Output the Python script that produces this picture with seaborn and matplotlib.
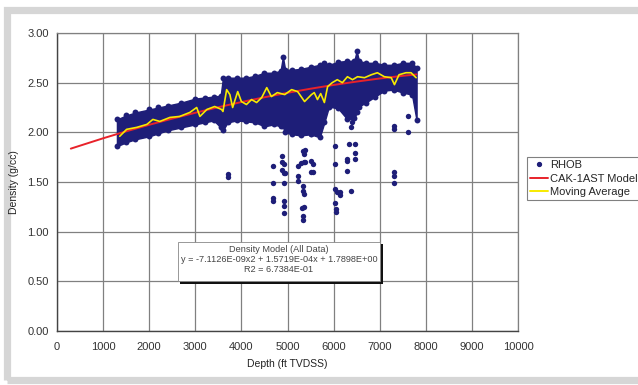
import matplotlib
matplotlib.use("Agg")
import matplotlib.pyplot as plt
import seaborn as sns
import pandas as pd
from matplotlib.patches import Rectangle
from matplotlib.lines import Line2D
from matplotlib.ticker import MultipleLocator

# ---------------- data ----------------
band_depth = [1300, 1500, 1700, 2000, 2200, 2400, 2700, 3000, 3200, 3400, 3550, 3600,
              3700, 3900, 4100, 4300, 4500, 4700, 4850, 4900, 4950, 5100, 5300, 5500,
              5700, 5800, 5900, 6100, 6300, 6450, 6500, 6550, 6700, 6900, 7100, 7300,
              7500, 7700, 7800]
band_upper = [2.13, 2.17, 2.20, 2.23, 2.25, 2.27, 2.30, 2.34, 2.35, 2.36, 2.37, 2.55,
              2.55, 2.55, 2.55, 2.57, 2.60, 2.60, 2.62, 2.76, 2.63, 2.63, 2.64, 2.66,
              2.68, 2.70, 2.68, 2.71, 2.72, 2.72, 2.82, 2.72, 2.70, 2.70, 2.68, 2.68,
              2.70, 2.70, 2.65]
band_lower = [1.86, 1.90, 1.93, 1.96, 1.99, 2.02, 2.05, 2.08, 2.10, 2.12, 2.05, 2.02,
              2.10, 2.12, 2.11, 2.10, 2.06, 2.08, 2.06, 2.06, 2.00, 1.98, 1.97, 1.98,
              1.95, 2.10, 2.26, 2.24, 2.13, 2.14, 2.20, 2.26, 2.30, 2.36, 2.42, 2.43,
              2.40, 2.38, 2.12]

out_depth = [3700, 3700,
             4680, 4680, 4680, 4680,
             4890, 4920, 4920, 4950, 4920, 4920, 4920, 4920, 4920, 4890, 4890,
             5220, 5220, 5220, 5220,
             5350, 5380, 5370, 5360, 5340, 5340, 5360, 5320, 5350, 5340, 5340, 5300, 5330,
             5500, 5550, 5510, 5550, 5500, 5540,
             6040, 6040, 6040, 6080, 6130, 6130, 6040, 6050, 6050,
             6340, 6470, 6470, 6470, 6300, 6300, 6300, 6380,
             6350, 6400, 6380,
             7300, 7300, 7620, 7620, 7300, 7300, 7300]
out_rho = [1.58, 1.55,
           1.66, 1.49, 1.34, 1.31,
           1.76, 1.68, 1.59, 1.59, 1.49, 1.31, 1.26, 1.19, 2.06, 1.70, 1.62,
           1.66, 1.56, 1.51, 1.99,
           1.70, 1.70, 1.82, 1.78, 1.46, 1.41, 1.38, 1.24, 1.25, 1.16, 1.12, 1.69, 1.81,
           1.71, 1.68, 1.60, 1.60, 1.98, 2.00,
           1.86, 1.68, 1.43, 1.40, 1.40, 1.37, 1.29, 1.23, 1.20,
           1.88, 1.88, 1.79, 1.73, 1.73, 1.71, 1.61, 1.41,
           2.16, 2.10, 2.05,
           2.06, 2.03, 2.16, 2.00, 1.60, 1.56, 1.49]

model_depth = [300, 1000, 1500, 2000, 2500, 3000, 3500, 4000, 4500, 5000, 5500, 6000,
               6500, 7000, 7500, 7800]
model_rho = [1.836, 1.940, 2.010, 2.076, 2.138, 2.197, 2.253, 2.305, 2.353, 2.398, 2.439,
             2.477, 2.511, 2.542, 2.569, 2.583]

ma_depth = [1360, 1510, 1730, 1950, 2080, 2230, 2450, 2660, 2880, 3030, 3100, 3250, 3420,
            3570, 3600, 3680, 3750, 3810, 3920, 4000, 4110, 4220, 4330, 4440, 4550, 4650,
            4780, 4940, 5090, 5220, 5370, 5520, 5580, 5650, 5720, 5800, 5870, 5970, 6080,
            6190, 6300, 6410, 6520, 6670, 6820, 6950, 7100, 7250, 7320, 7420, 7570, 7680,
            7790]
ma_rho = [1.96, 2.03, 2.05, 2.08, 2.13, 2.11, 2.15, 2.16, 2.20, 2.25, 2.16, 2.23, 2.26,
          2.23, 2.21, 2.43, 2.38, 2.25, 2.41, 2.31, 2.28, 2.33, 2.30, 2.35, 2.45, 2.36,
          2.40, 2.38, 2.43, 2.41, 2.31, 2.38, 2.40, 2.33, 2.39, 2.30, 2.46, 2.50, 2.53,
          2.50, 2.56, 2.53, 2.56, 2.55, 2.58, 2.60, 2.56, 2.55, 2.48, 2.58, 2.60, 2.60,
          2.55]

x_ticks = list(range(0, 10001, 1000))
y_ticks = [0.0, 0.5, 1.0, 1.5, 2.0, 2.5, 3.0]
x_label = "Depth (ft TVDSS)"
y_label = "Density (g/cc)"
legend_labels = ["RHOB", "CAK-1AST Model", "Moving Average"]
note_lines = ["Density Model (All Data)",
              "y = -7.1126E-09x2 + 1.5719E-04x + 1.7898E+00",
              "R2 = 6.7384E-01"]

# ---------------- style ----------------
sns.set_style("white")
plt.rcParams["font.family"] = ["Liberation Sans", "DejaVu Sans"]

NAVY = "#1e1e78"
RED = "#e8222a"
YELLOW = "#f7ea00"

W, H = 638, 385
fig = plt.figure(figsize=(W / 100, H / 100), dpi=100)
fig.patch.set_facecolor("white")

# outer gray frame (open on the right, where the picture is cut)
fig.add_artist(Rectangle((6.5 / W, 1 - 379.5 / H), 700 / W, 370 / H,
                         transform=fig.transFigure, fill=False,
                         edgecolor="#d6d6d6", linewidth=5.2, zorder=0))

ax = fig.add_axes([57 / W, 1 - 331 / H, 461 / W, 298 / H])
ax.set_xlim(0, 10000)
ax.set_ylim(0, 3.0)

band_df = pd.DataFrame({"depth": band_depth, "upper": band_upper, "lower": band_lower})
ax.fill_between(band_df["depth"], band_df["lower"], band_df["upper"],
                color=NAVY, linewidth=1.0, edgecolor=NAVY, zorder=2)
sns.scatterplot(x=band_df["depth"], y=band_df["upper"], ax=ax, color=NAVY, s=18,
                edgecolor=NAVY, linewidth=0, zorder=2)
sns.scatterplot(x=band_df["depth"], y=band_df["lower"], ax=ax, color=NAVY, s=18,
                edgecolor=NAVY, linewidth=0, zorder=2)

out_df = pd.DataFrame({"depth": out_depth, "rho": out_rho})
sns.scatterplot(data=out_df, x="depth", y="rho", ax=ax, color=NAVY, s=15,
                edgecolor=NAVY, linewidth=0, zorder=2)

model_df = pd.DataFrame({"depth": model_depth, "rho": model_rho})
sns.lineplot(data=model_df, x="depth", y="rho", ax=ax, color=RED, linewidth=1.4,
             zorder=3, sort=False)
ma_df = pd.DataFrame({"depth": ma_depth, "rho": ma_rho})
sns.lineplot(data=ma_df, x="depth", y="rho", ax=ax, color=YELLOW, linewidth=1.2,
             zorder=4, sort=False)

ax.set_xticks(x_ticks)
ax.set_xticklabels([str(t) for t in x_ticks])
ax.set_yticks(y_ticks)
ax.set_yticklabels([f"{t:.2f}" for t in y_ticks])
ax.xaxis.set_minor_locator(MultipleLocator(200))
ax.yaxis.set_minor_locator(MultipleLocator(0.1))
ax.tick_params(axis="both", which="major", labelsize=8, colors="#333333",
               length=3, direction="in", pad=6)
ax.tick_params(axis="both", which="minor", length=2, direction="in", colors="#555555")
ax.tick_params(axis="x", pad=8)
ax.grid(True, which="major", color="#808080", linewidth=0.9, zorder=0)
ax.set_axisbelow(True)
for side in ["top", "right"]:
    ax.spines[side].set_color("#808080")
    ax.spines[side].set_linewidth(0.9)
for side in ["left", "bottom"]:
    ax.spines[side].set_color("#444444")
    ax.spines[side].set_linewidth(1.0)

ax.set_xlabel(x_label, fontsize=7.5, color="#222222", labelpad=5)
ax.set_ylabel(y_label, fontsize=7.5, color="#222222", labelpad=6)

# legend
handles = [Line2D([], [], marker="o", color=NAVY, linestyle="none", markersize=2.8),
           Line2D([], [], color=RED, linewidth=1.4),
           Line2D([], [], color=YELLOW, linewidth=1.4)]
leg = fig.legend(handles, legend_labels, loc="upper left",
                 bbox_to_anchor=(527 / W, 1 - 157 / H), fontsize=8,
                 frameon=True, fancybox=False, framealpha=1, edgecolor="#808080",
                 handlelength=1.6, handletextpad=0.2, borderpad=0.3,
                 labelspacing=0.3, borderaxespad=0)
leg.get_frame().set_linewidth(0.8)

# annotation box with shadow
fig.add_artist(Rectangle((180 / W, 1 - 284 / H), 203 / W, 40 / H,
                         transform=fig.transFigure, facecolor="#111111",
                         edgecolor="none", zorder=5))
fig.add_artist(Rectangle((178 / W, 1 - 281 / H), 202 / W, 39 / H,
                         transform=fig.transFigure, facecolor="white",
                         edgecolor="#888888", linewidth=0.6, zorder=6))
for i, line in enumerate(note_lines):
    fig.text(279 / W, 1 - (249 + 10 * i) / H, line, ha="center", va="center",
             fontsize=6.6, color="#444444", zorder=7)

fig.savefig("out.png", dpi=100, facecolor=fig.get_facecolor())
